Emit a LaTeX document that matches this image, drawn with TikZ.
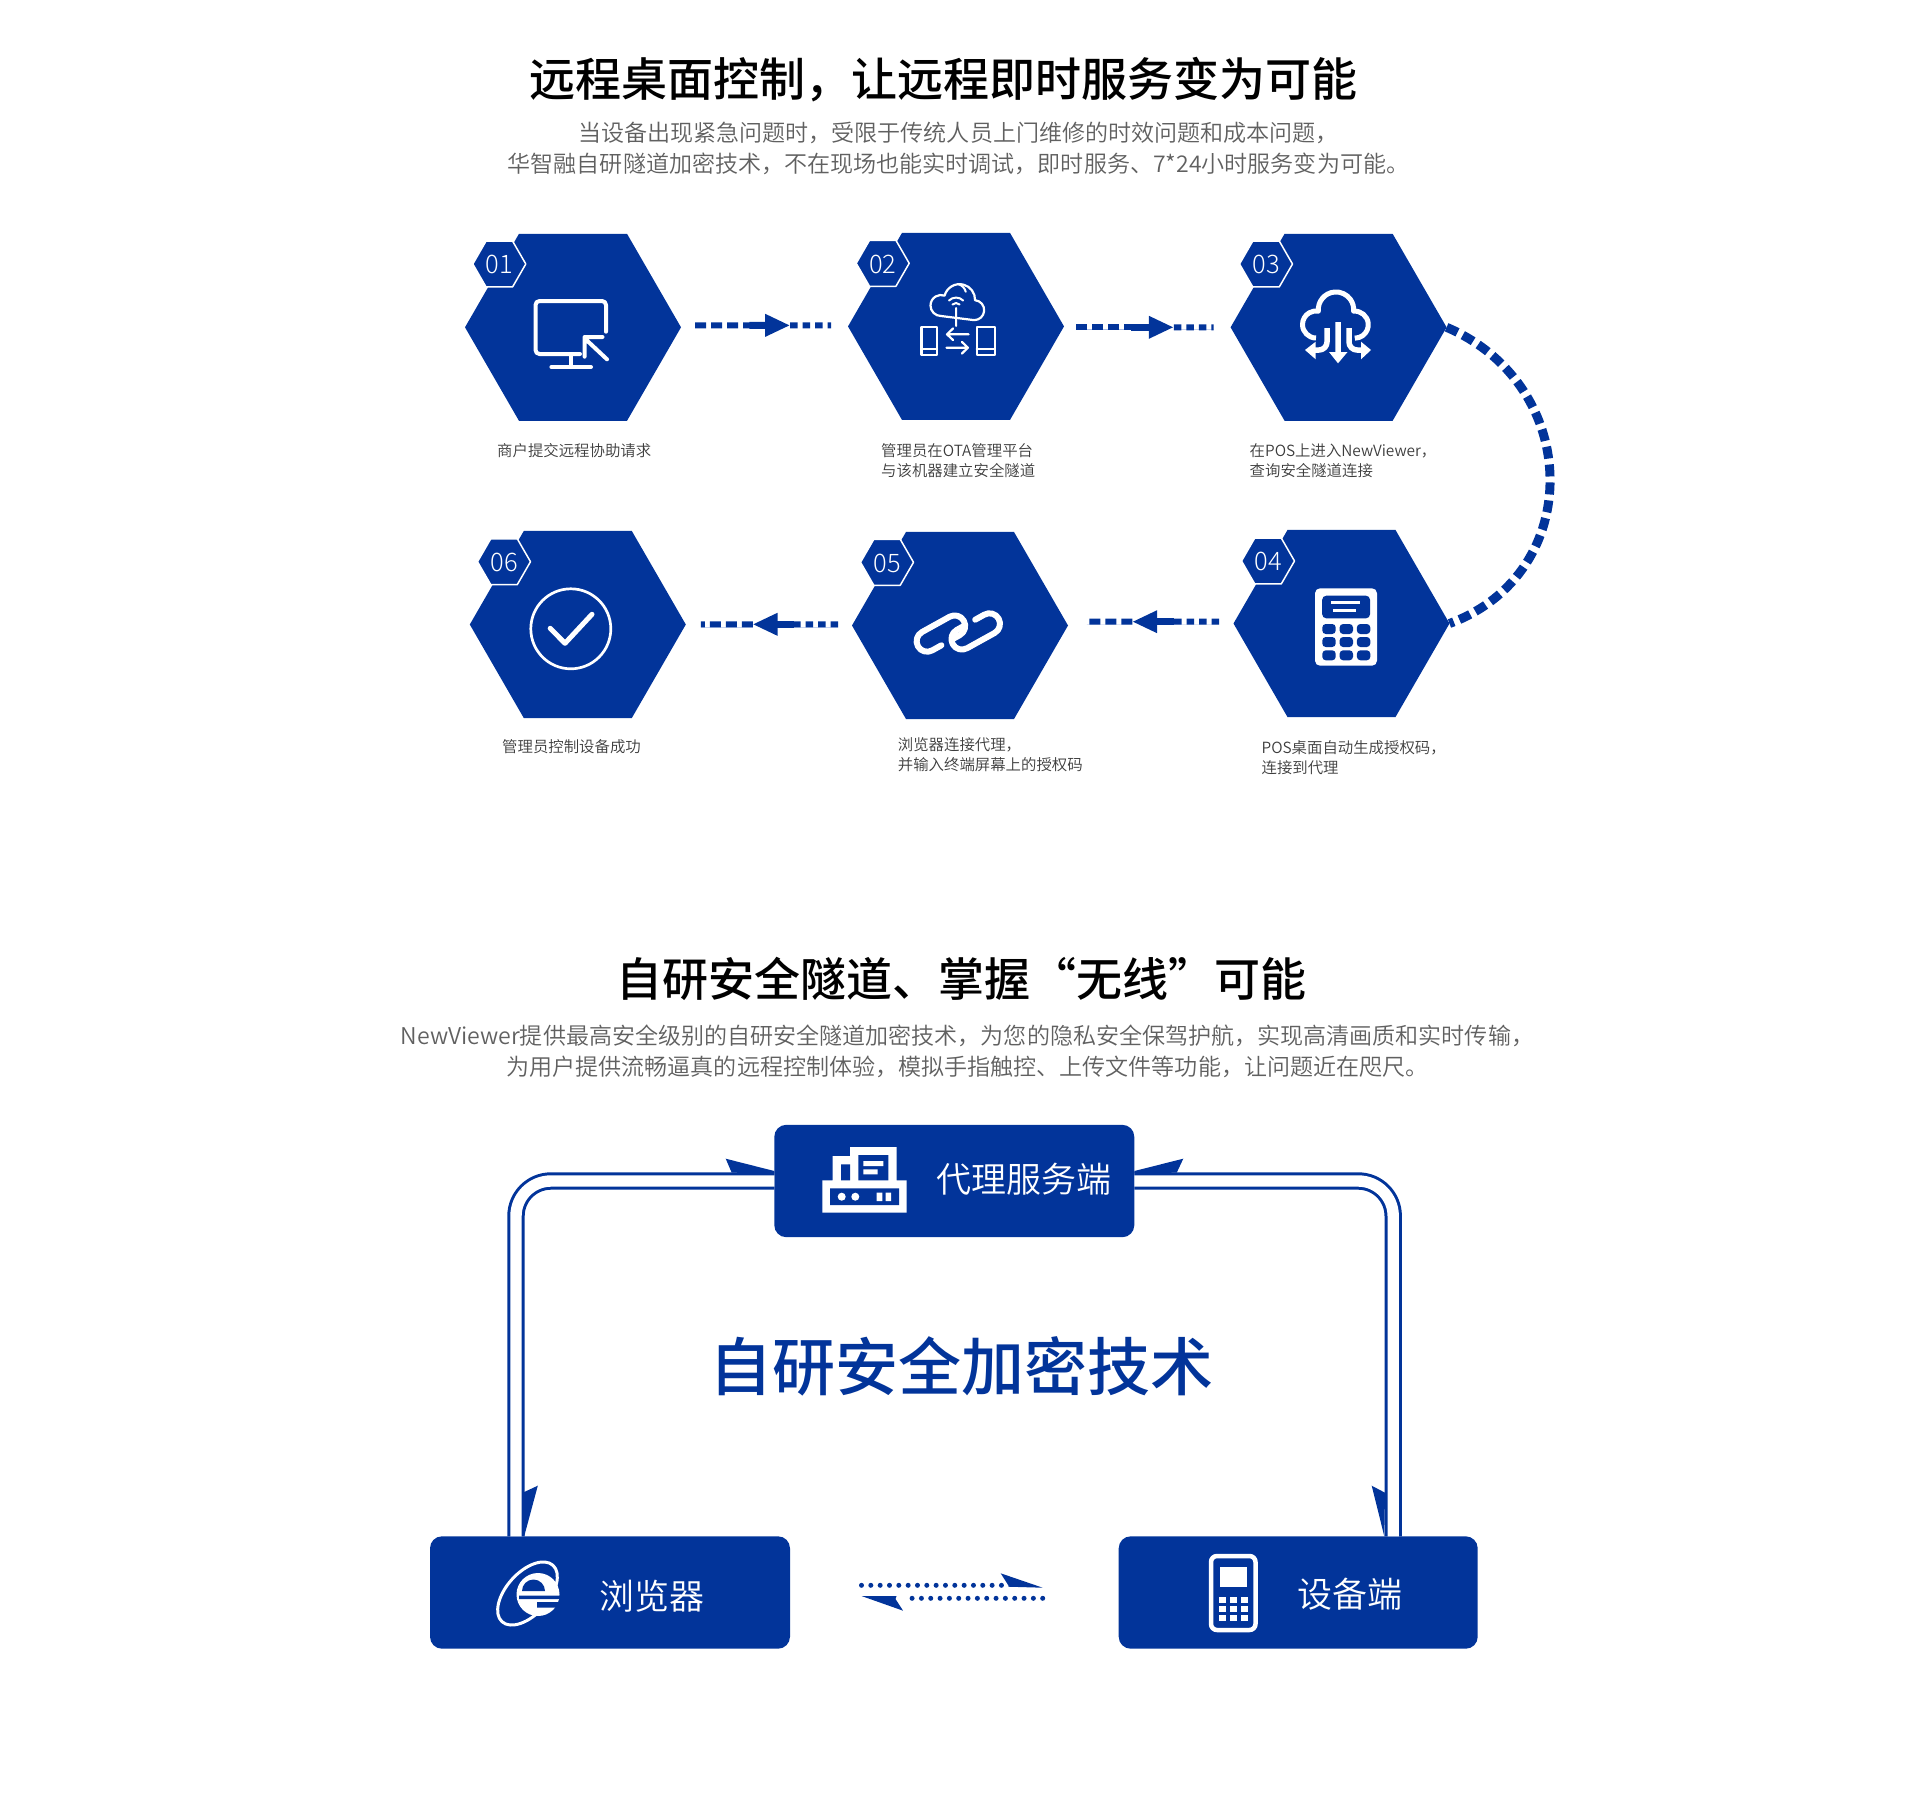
\documentclass[tikz,border=0pt]{standalone}
\usepackage{fontspec}
\setmainfont{Noto Sans CJK SC Light}
\newfontfamily\headfont{Noto Sans CJK SC Medium}
\newfontfamily\demifont{Noto Sans CJK SC DemiLight}
\usetikzlibrary{shapes.geometric,calc,arrows.meta}
\definecolor{hexblue}{HTML}{02349A}
\definecolor{hexpale}{HTML}{A9BCE5}
\definecolor{subgray}{HTML}{606060}
\definecolor{labelgray}{HTML}{3C3C3C}
\tikzset{
	hexnode/.style={regular polygon,regular polygon sides=6,fill=hexblue,minimum size=216,inner sep=0,outer sep=0},
	badgenode/.style={regular polygon,regular polygon sides=6,fill=hexblue,draw=white,line width=1.5,minimum size=53,inner sep=0,outer sep=0,text=white,text height=20,font=\fontsize{25.5}{25.5}\selectfont},
	boxnode/.style={rectangle,rounded corners=12,fill=hexblue,minimum width=360,minimum height=112.4,inner sep=0,outer sep=0},
	hexlabel/.style={anchor=west,align=left,inner sep=0,text=labelgray,font=\demifont\fontsize{15.4}{20}\selectfont},
	boxlabel/.style={inner sep=0,text=white,font=\demifont\fontsize{35}{35}\selectfont},
	titlelabel/.style={inner sep=0,text=black,font=\headfont\fontsize{46}{46}\selectfont},
	sublabel/.style={inner sep=0,align=center,text=subgray},
	iconline/.style={draw=white,line width=4,line cap=round,line join=round},
	flowlong/.style={draw=hexblue,line width=6,dash pattern=on 11 off 5},
	flowshort/.style={draw=hexblue,line width=6,dash pattern=on 7.5 off 5},
	flowhead/.style={draw=hexblue,line width=7,-{Triangle[length=25,width=21]}},
	pale/.style={preaction={draw=hexpale,transform canvas={yshift=-#1}}},
	flowarc/.style={draw=hexblue,line width=9,dash pattern=on 12 off 6},
	tunnel/.style={draw=hexblue,line width=3,double=white,double distance=11.4,rounded corners=35},
	dotline/.style={draw=hexblue,line width=5,line cap=round,dash pattern=on 0 off 9.33}
}
\begin{document}
\begin{tikzpicture}[x=1pt,y=-1pt,line join=round,>=stealth]
	\useasboundingbox (0,0) rectangle (1923,1801);
	% titles
	\node[titlelabel] (title1) at (943,80) {远程桌面控制，让远程即时服务变为可能};
	\node[sublabel,font=\demifont\fontsize{23.05}{30.5}\selectfont] (sub1) at (958.5,148.2) {当设备出现紧急问题时，受限于传统人员上门维修的时效问题和成本问题，\\华智融自研隧道加密技术，不在现场也能实时调试，即时服务、7*24小时服务变为可能。};
	\node[titlelabel] (title2) at (961,979) {自研安全隧道、掌握“无线”可能};
	\node[sublabel,font=\demifont\fontsize{23.05}{31}\selectfont] (sub2) at (967.5,1051) {NewViewer提供最高安全级别的自研安全隧道加密技术，为您的隐私安全保驾护航，实现高清画质和实时传输，\\为用户提供流畅逼真的远程控制体验，模拟手指触控、上传文件等功能，让问题近在咫尺。};
	% hexagons
	\node[hexnode] (hex1) at (573,327.3) {};
	\node[hexnode] (hex2) at (956,326.4) {};
	\node[hexnode] (hex3) at (1338.6,327.3) {};
	\node[hexnode] (hex4) at (1341.5,623.5) {};
	\node[hexnode] (hex5) at (960,625.5) {};
	\node[hexnode] (hex6) at (577.8,624.5) {};
	\node[badgenode] (badge1) at (499.3,264) {01};
	\node[badgenode] (badge2) at (882.7,263.3) {02};
	\node[badgenode] (badge3) at (1266,264) {03};
	\node[badgenode] (badge4) at (1268,561) {04};
	\node[badgenode] (badge5) at (887,562.3) {05};
	\node[badgenode] (badge6) at (504,561.7) {06};
	\node[hexlabel] (label1) at (497,451) {商户提交远程协助请求};
	\node[hexlabel] (label2) at (881,461) {管理员在OTA管理平台\\与该机器建立安全隧道};
	\node[hexlabel] (label3) at (1249.5,461) {在POS上进入NewViewer，\\查询安全隧道连接};
	\node[hexlabel] (label4) at (1261.4,758) {POS桌面自动生成授权码，\\连接到代理};
	\node[hexlabel] (label5) at (897.7,755) {浏览器连接代理，\\并输入终端屏幕上的授权码};
	\node[hexlabel] (label6) at (502,747) {管理员控制设备成功};
	% flow between hexagons
	\coordinate (a12) at ([shift={(14,-2)}]hex1.east);
	\coordinate (b12) at ([shift={(-17,-1)}]hex2.west);
	\draw[flowlong] (a12) -- ($(a12)!.41!(b12)$);
	\draw[flowshort] ($(a12)!.70!(b12)$) -- (b12);
	\draw[flowhead] ($(a12)!.40!(b12)$) -- ($(a12)!.70!(b12)$);
	\coordinate (a23) at ([shift={(12.4,.9)}]hex2.east);
	\coordinate (b23) at ([shift={(-17,0)}]hex3.west);
	\draw[flowlong,pale=2] (a23) -- ($(a23)!.41!(b23)$);
	\draw[flowshort,pale=2] ($(a23)!.71!(b23)$) -- (b23);
	\draw[flowhead] ($(a23)!.40!(b23)$) -- ($(a23)!.71!(b23)$);
	\coordinate (a45) at ([shift={(-14.4,-1.8)}]hex4.west);
	\coordinate (b45) at ([shift={(18.8,-3.8)}]hex5.east);
	\draw[flowshort,pale=3] (a45) -- ($(a45)!.345!(b45)$);
	\draw[flowlong,pale=3] ($(a45)!.655!(b45)$) -- (b45);
	\draw[flowhead] ($(a45)!.34!(b45)$) -- ($(a45)!.657!(b45)$);
	\coordinate (a56) at ([shift={(-14,-1.2)}]hex5.west);
	\coordinate (b56) at ([shift={(15,-.2)}]hex6.east);
	\draw[flowshort,pale=3] (a56) -- ($(a56)!.32!(b56)$);
	\draw[flowlong,pale=3] ($(a56)!.62!(b56)$) -- (b56);
	\draw[flowhead] ($(a56)!.319!(b56)$) -- ($(a56)!.623!(b56)$);
	\draw[flowarc] (hex3.east) .. controls ([shift={(136,58)}]hex3.east) and ([shift={(136,-50)}]hex4.east) .. (hex4.east);
	% icon 1, monitor
	\draw[iconline] (606,331.7) -- (606,305) arc[start angle=0,end angle=-90,radius=4] -- (539.5,301) arc[start angle=270,end angle=180,radius=4] -- (535.5,350) arc[start angle=180,end angle=90,radius=4] -- (580,354);
	\draw[iconline] (571.4,354) -- (571.4,367) (551.4,367) -- (591,367);
	\draw[iconline] (607,359.3) -- (584.6,338.3) (584.6,356.7) -- (584.6,337) -- (602.5,337);
	% icon 2, cloud and terminals
	\draw[iconline,line width=2.2] (941,316) arc[start angle=90,end angle=290,radius=10.5] arc[start angle=195,end angle=362,radius=15.5] arc[start angle=275,end angle=450,radius=10] -- cycle;
	\draw[iconline,line width=2] (958,284) arc[start angle=285,end angle=345,radius=11];
	\draw[iconline,line width=2] (952.5,304.5) arc[start angle=225,end angle=315,radius=5] (949,300.5) arc[start angle=225,end angle=315,radius=10] (956,308) -- (956,326);
	\draw[iconline,line width=2.2] (921.4,326.7) rectangle (937,355) (921.4,349) -- (937,349) (976.8,326.7) rectangle (994.6,355) (976.8,349) -- (994.6,349);
	\draw[iconline,line width=2.2] (968.6,334.3) -- (947,334.3) (953,328.5) -- (947,334.3) -- (953,340) (946.4,347.7) -- (967.9,347.7) (962,342) -- (967.9,347.7) -- (962,353.5);
	% icon 3, cloud and arrows
	\draw[iconline,line width=5,line cap=butt] (1316,338) arc[start angle=90,end angle=280,radius=13.5] arc[start angle=175,end angle=365,radius=17.7] arc[start angle=265,end angle=450,radius=13.5];
	\draw[iconline,line width=5.5,line cap=butt] (1338,322) -- (1338,353) (1327,328) -- (1327,342) arc[start angle=0,end angle=90,radius=8] -- (1315,350) (1349,328) -- (1349,342) arc[start angle=180,end angle=90,radius=8] -- (1361,350);
	\fill[white] (1329,352) -- (1347.5,352) -- (1338,363.3) -- cycle (1305,350) -- (1315.7,341.7) -- (1315.7,359.3) -- cycle (1371,350) -- (1361,341.7) -- (1361,359.3) -- cycle;
	% icon 4, calculator
	\fill[white,rounded corners=5] (1315,588.3) rectangle (1377,665.7);
	\fill[hexblue,rounded corners=4] (1322.2,595.7) rectangle (1370,618.3);
	\draw[draw=white,line width=3] (1331,602.3) -- (1359.7,602.3) (1333,610.7) -- (1356,610.7);
	\foreach \keyx in {1329,1346.3,1363.6}
		\foreach \keyy in {629,642,655.3}
			\fill[hexblue,rounded corners=3.5] (\keyx-6.7,\keyy-5) rectangle (\keyx+6.7,\keyy+5);
	% icon 5, chain
	\foreach \linkangle in {29,209}
		\draw[iconline,line width=6,shift={(958.3,632.5)},rotate=\linkangle] (-21,3) -- (-31.5,3) arc[start angle=90,end angle=270,radius=10.5] -- (0,-18) arc[start angle=270,end angle=450,radius=10.5] -- (-8,3);
	% icon 6, check
	\draw[draw=white,line width=2.7] (570.8,628.8) circle (40);
	\draw[iconline,line width=5] (550.2,628.3) -- (565,643.3) -- (592,614.3);
	% boxes
	\node[boxnode] (proxy) at (954.3,1181) {};
	\node[boxnode] (browser) at (610,1592.5) {};
	\node[boxnode,minimum width=359] (device) at (1298.2,1592.5) {};
	\node[boxlabel] (proxytext) at (1024,1179) {代理服务端};
	\node[boxlabel] (browsertext) at (651.6,1596) {浏览器};
	\node[boxlabel] (devicetext) at (1350,1594.3) {设备端};
	\node[inner sep=0,text=hexblue,font=\headfont\fontsize{63}{63}\selectfont] (tech) at (961.5,1366) {自研安全加密技术};
	% tunnels
	\draw[tunnel] (proxy.west) -| ([xshift=86]browser.north west);
	\draw[tunnel] (proxy.east) -| ([xshift=-84.5]device.north east);
	\fill[hexblue] (proxy.west) ++(0,-10) -- ++(-48.6,-12.3) -- ++(6,14) -- ++(42.6,.3) -- cycle;
	\fill[hexblue] (proxy.east) ++(0,-10) -- ++(49,-12.3) -- ++(-6.6,14) -- ++(-42.4,.3) -- cycle;
	\fill[hexblue] (browser.north west) ++(94.2,0) -- ++(13.6,-50.6) -- ++(-13.6,6.3) -- cycle;
	\fill[hexblue] (device.north east) ++(-93.4,0) -- ++(-12.6,-50.6) -- ++(13.3,7) -- cycle;
	% dotted link
	\coordinate (dotsa) at ([shift={(71.5,-7.2)}]browser.east);
	\coordinate (dotsb) at ([shift={(-110.4,-7.2)}]device.west);
	\coordinate (dotsc) at ([shift={(-76,5.8)}]device.west);
	\coordinate (dotsd) at ([shift={(112.8,5.8)}]browser.east);
	\draw[dotline] (dotsa) -- (dotsb);
	\draw[dotline] (dotsc) -- (dotsd);
	\fill[hexblue] (dotsb) ++(-7.6,-12) -- ++(7.6,12) -- ++(0,1.4) -- ++(34.4,1) -- cycle;
	\fill[hexblue] (dotsd) ++(-41.3,-2.3) -- ++(35,0) -- ++(-1,3) -- ++(7.6,11.7) -- cycle;
	% icon proxy
	\fill[white] (822.3,1180.3) rectangle (906.7,1212.7) (850,1147) rectangle (896.7,1181) (832.7,1156) rectangle (851,1181);
	\fill[hexblue] (830,1188.3) rectangle (899,1205) (858.3,1155) rectangle (888.3,1180.3) (841,1164.3) rectangle (850,1180.3);
	\fill[white] (863.3,1161) rectangle (883.3,1166) (863.3,1169.3) rectangle (877.7,1174.3) (876.7,1192.7) rectangle (882.3,1201) (885.7,1192.7) rectangle (891,1201) (841.7,1196.7) circle (4) (855.3,1196.7) circle (4);
	% icon browser
	\draw[draw=white,line width=3] (527.5,1593.5) ellipse[x radius=38,y radius=21,rotate=48];
	\fill[white] (538,1594.5) circle (21.5);
	\fill[hexblue] (522,1591) arc[start angle=180,end angle=360,radius=11.5] -- cycle;
	\fill[hexblue] (519,1595.5) rectangle (560,1599) (537,1602) rectangle (561,1607.5);
	% icon device
	\draw[draw=white,line width=4.5,rounded corners=6] (1211,1556) rectangle (1255.5,1630);
	\fill[white] (1220,1567.3) rectangle (1247.3,1586.7);
	\foreach \keyx in {1222,1233.3,1244.7}
		\foreach \keyy in {1600,1609.3,1618.3}
			\fill[white] (\keyx-3.5,\keyy-3) rectangle (\keyx+3.5,\keyy+3);
\end{tikzpicture}
\end{document}
